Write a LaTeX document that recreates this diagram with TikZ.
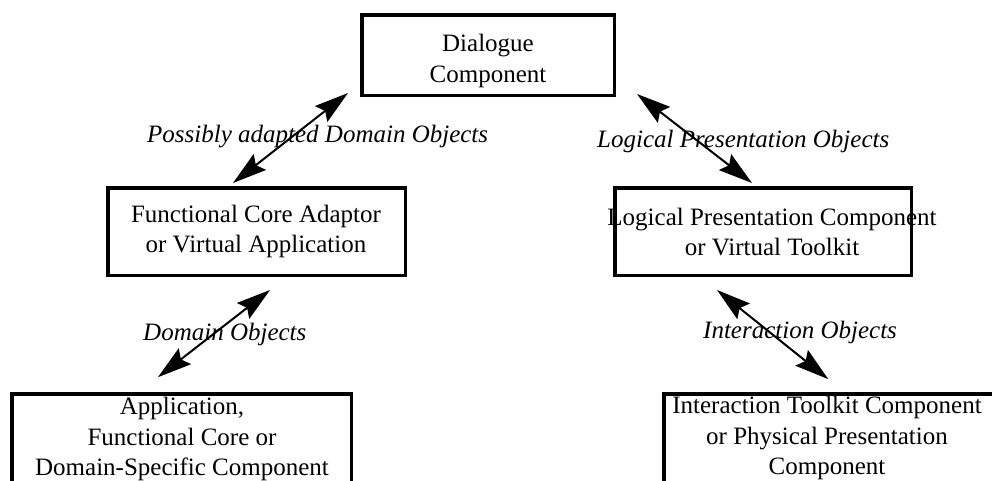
\documentclass[tikz,border=0pt]{standalone}
\usepackage{fontspec}
\setmainfont{Liberation Serif}
\usetikzlibrary{arrows.meta,calc}
\begin{document}
\begin{tikzpicture}[x=1pt,y=-1pt,
  box/.style={draw, line width=3.5pt, inner sep=0pt},
  boxtext/.style={align=center, inner sep=0pt, font=\fontsize{25}{30.5}\selectfont},
  flowlabel/.style={inner sep=0pt, anchor=base west, font=\fontsize{25}{31}\selectfont\itshape},
  link/.style={line width=2pt,
    {Stealth[length=34pt,width=20pt,inset=5pt]}-{Stealth[length=34pt,width=20pt,inset=5pt]}}]
\useasboundingbox (0,0) rectangle (992,480);
\clip (0,0) rectangle (992,480);

% component boxes
\node[box, minimum width=252.5pt, minimum height=80.5pt] (dlg) at (488,55) {};
\node[box, minimum width=297.5pt, minimum height=87.5pt] (fca) at (256.5,231.5) {};
\node[box, minimum width=296.5pt, minimum height=87.5pt] (lpc) at (763,231.5) {};
\node[box, minimum width=339.5pt, minimum height=106pt] (app) at (181.5,446.9) {};
\node[box, minimum width=332pt, minimum height=106pt] (itc) at (830,446.9) {};

% box captions
\node[boxtext] (dlgtext) at (488,61) {Dialogue\\Component};
\node[boxtext] (fcatext) at (256,231.5) {Functional Core Adaptor\\or Virtual Application};
\node[boxtext] (lpctext) at (772,232) {Logical Presentation Component\\or Virtual Toolkit};
\node[boxtext] (apptext) at (182,439) {Application,\\Functional Core or\\Domain-Specific Component};
\node[boxtext] (itctext) at (827,438) {Interaction Toolkit Component\\or Physical Presentation\\Component};

% exchanged objects
\draw[link] ($(fca.north west)+(127,-3)$) -- ($(dlg.south west)+(-12,-4)$);
\draw[link] ($(dlg.south east)+(21,-3)$) -- ($(lpc.north west)+(139,-3)$);
\draw[link] ($(app.north west)+(148,-15)$) -- ($(fca.south west)+(164,13)$);
\draw[link] ($(lpc.south west)+(104,13)$) -- ($(itc.north west)+(166,-13)$);

\node[flowlabel] (l1) at (147,142) {Possibly adapted Domain Objects};
\node[flowlabel] (l2) at (597,147) {Logical Presentation Objects};
\node[flowlabel] (l3) at (143,340) {Domain Objects};
\node[flowlabel] (l4) at (703,338) {Interaction Objects};
\end{tikzpicture}
\end{document}
